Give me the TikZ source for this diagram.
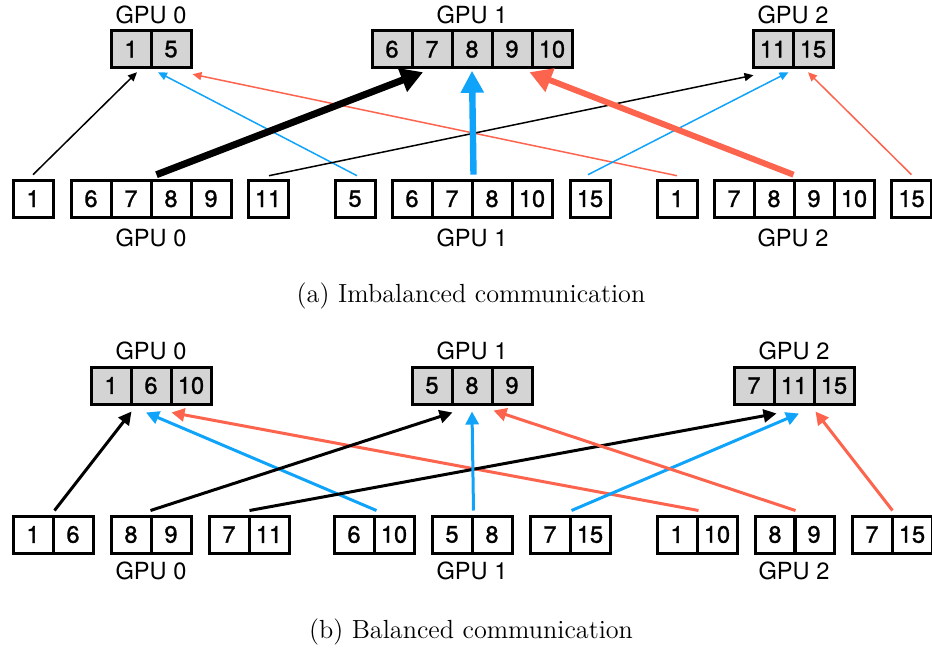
\documentclass[tikz,border=0pt]{standalone}
\usepackage{fontspec}
\newfontfamily\hv{TeX Gyre Heros}
\newfontfamily\hvb[FakeBold=1.3]{TeX Gyre Heros}
\usetikzlibrary{arrows.meta}
\definecolor{cellgray}{RGB}{212,212,212}
\definecolor{cblue}{RGB}{16,163,250}
\definecolor{cred}{RGB}{252,100,78}
\tikzset{
  cell/.style={draw, line width=1.5pt, minimum width=20pt, minimum height=18.5pt, inner sep=0pt, font=\hvb\fontsize{11.8}{12}\selectfont},
  gcell/.style={cell, fill=cellgray},
  lbl/.style={inner sep=0pt, font=\hv\fontsize{11.8}{12}\selectfont},
  captxt/.style={inner sep=0pt, font=\fontsize{13.1}{15}\selectfont},
  thinar/.style={line width=0.75pt, -{Triangle[length=4.5pt,width=4pt]}},
  thickar/.style={line width=3.5pt, -{Triangle[length=11pt,width=12pt]}},
  midar/.style={line width=1.5pt, -{Triangle[length=6.5pt,width=6.5pt]}}
}
\begin{document}
\begin{tikzpicture}[x=0.5pt,y=-0.5pt]
\useasboundingbox (0,0) rectangle (932,654);
% ---------------- (a) ----------------
\node[lbl] (la0) at (151,14.5) {GPU 0};
\node[lbl] (la1) at (472,14.5) {GPU 1};
\node[lbl] (la2) at (793,14.5) {GPU 2};
\node[gcell] (A0a) at (131,49.2) {1};
\node[gcell] (A0b) at (171,49.2) {5};
\node[gcell] (A1a) at (392,49.2) {6};
\node[gcell] (A1b) at (432,49.2) {7};
\node[gcell] (A1c) at (472,49.2) {8};
\node[gcell] (A1d) at (512,49.2) {9};
\node[gcell] (A1e) at (552,49.2) {10};
\node[gcell] (A2a) at (773,49.2) {11};
\node[gcell] (A2b) at (813,49.2) {15};

\node[cell] (p) at (33,198.7) {1};
\node[cell] (q1) at (91,198.7) {6};
\node[cell] (q2) at (131,198.7) {7};
\node[cell] (q3) at (171,198.7) {8};
\node[cell] (q4) at (211,198.7) {9};
\node[cell] (r) at (268,198.7) {11};
\node[cell] (s) at (355,198.7) {5};
\node[cell] (u1) at (412,198.7) {6};
\node[cell] (u2) at (452,198.7) {7};
\node[cell] (u3) at (492,198.7) {8};
\node[cell] (u4) at (532,198.7) {10};
\node[cell] (v) at (590,198.7) {15};
\node[cell] (w) at (677,198.7) {1};
\node[cell] (z1) at (734,198.7) {7};
\node[cell] (z2) at (774,198.7) {8};
\node[cell] (z3) at (814,198.7) {9};
\node[cell] (z4) at (854,198.7) {10};
\node[cell] (zz) at (911.5,198.7) {15};

\node[lbl] (lb0) at (151,237.5) {GPU 0};
\node[lbl] (lb1) at (472,237.5) {GPU 1};
\node[lbl] (lb2) at (793,237.5) {GPU 2};
\node[captxt] (capa) at (471,296) {(a) Imbalanced communication};

\draw[thinar] ([shift={(0,-4)}]p.north) -- ([shift={(6,3)}]A0a.south);
\draw[thinar, cblue] ([shift={(2,-3)}]s.north) -- ([shift={(-13,3)}]A0b.south);
\draw[thinar, cred] ([shift={(0,-3)}]w.north) -- ([shift={(0,5)}]A0b.south east);
\draw[thinar] ([shift={(1,-3)}]r.north) -- ([shift={(2,6)}]A2a.south west);
\draw[thinar, cblue] ([shift={(-2,-4)}]v.north) -- ([shift={(-6,3)}]A2a.south east);
\draw[thinar, cred] ([shift={(0,-4)}]zz.north) -- ([shift={(-5,3)}]A2b.south);
\draw[thickar] ([shift={(4,-4)}]q2.north east) -- ([shift={(-9,3)}]A1b.south);
\draw[thickar, cblue, line width=3.2pt, -{Triangle[length=11pt,width=11pt]}] ([shift={(0,-4)}]u2.north east) -- ([shift={(0,1.5)}]A1c.south);
\draw[thickar, cred, line width=3pt] ([shift={(-2,-4)}]z2.north east) -- ([shift={(-4,3)}]A1d.south east);

% ---------------- (b) ----------------
\node[lbl] (lc0) at (151,350.7) {GPU 0};
\node[lbl] (lc1) at (472,350.7) {GPU 1};
\node[lbl] (lc2) at (794,350.7) {GPU 2};
\node[gcell] (B0a) at (111,385.5) {1};
\node[gcell] (B0b) at (151,385.5) {6};
\node[gcell] (B0c) at (191,385.5) {10};
\node[gcell] (B1a) at (432,385.5) {5};
\node[gcell] (B1b) at (472,385.5) {8};
\node[gcell] (B1c) at (512,385.5) {9};
\node[gcell] (B2a) at (754,385.5) {7};
\node[gcell] (B2b) at (794,385.5) {11};
\node[gcell] (B2c) at (834,385.5) {15};

\node[cell] (c1a) at (33,534.5) {1};
\node[cell] (c1b) at (73,534.5) {6};
\node[cell] (c2a) at (131,534.5) {8};
\node[cell] (c2b) at (171,534.5) {9};
\node[cell] (c3a) at (229,534.5) {7};
\node[cell] (c3b) at (269,534.5) {11};
\node[cell] (c4a) at (354,534.5) {6};
\node[cell] (c4b) at (394,534.5) {10};
\node[cell] (c5a) at (452,534.5) {5};
\node[cell] (c5b) at (492,534.5) {8};
\node[cell] (c6a) at (550,534.5) {7};
\node[cell] (c6b) at (590,534.5) {15};
\node[cell] (c7a) at (677,534.5) {1};
\node[cell] (c7b) at (717,534.5) {10};
\node[cell] (c8a) at (775,534.5) {8};
\node[cell] (c8b) at (814,534.5) {9};
\node[cell] (c9a) at (872,534.5) {7};
\node[cell] (c9b) at (912,534.5) {15};

\node[lbl] (ld0) at (151,571) {GPU 0};
\node[lbl] (ld1) at (472,571) {GPU 1};
\node[lbl] (ld2) at (794,571) {GPU 2};
\node[captxt] (capb) at (471,632) {(b) Balanced communication};

\draw[midar] ([shift={(0,-4)}]c1a.north east) -- ([shift={(-1,6)}]B0a.south east);
\draw[midar, cblue] ([shift={(1,-4)}]c4a.north east) -- ([shift={(-5,7)}]B0b.south);
\draw[midar, cred] ([shift={(0,-4)}]c7a.north east) -- ([shift={(-1,7)}]B0b.south east);
\draw[midar] ([shift={(-2,-4)}]c2a.north east) -- ([shift={(-1,7)}]B1a.south east);
\draw[midar] ([shift={(-1,-4)}]c3a.north east) -- ([shift={(1,8)}]B2a.south east);
\draw[midar, cblue] ([shift={(0,-4)}]c5a.north east) -- ([shift={(0,6)}]B1b.south);
\draw[midar, cblue] ([shift={(0,-4)}]c6a.north east) -- ([shift={(5,8)}]B2b.south);
\draw[midar, cred] ([shift={(-1,-4)}]c8a.north east) -- ([shift={(0,5)}]B1b.south east);
\draw[midar, cred] ([shift={(-1,-4)}]c9a.north east) -- ([shift={(0,6)}]B2b.south east);
\end{tikzpicture}
\end{document}
